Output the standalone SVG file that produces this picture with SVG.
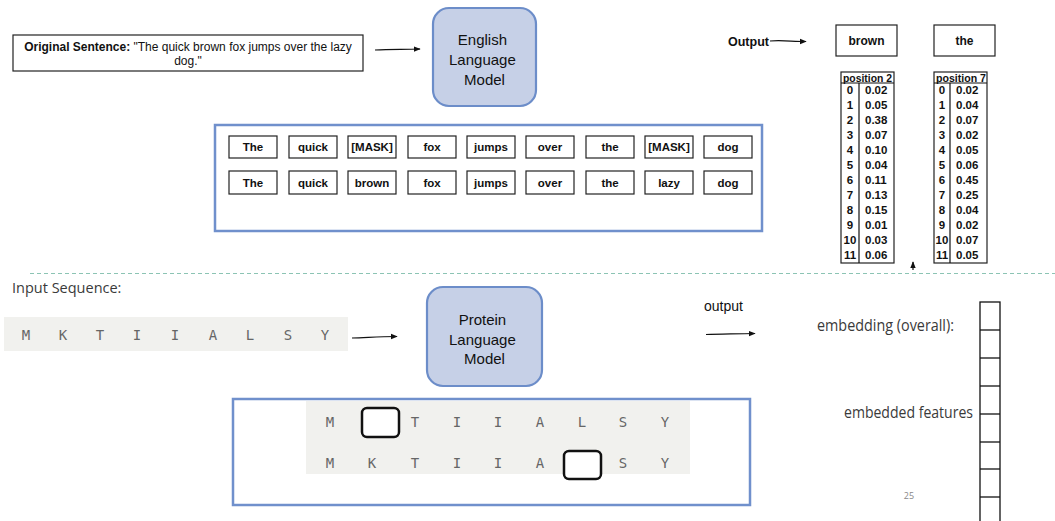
<svg xmlns="http://www.w3.org/2000/svg" width="1055" height="521" viewBox="0 0 1055 521">
  <style>
    .sans { font-family: "Liberation Sans", Arial, sans-serif; fill: #111; }
    .b { font-weight: bold; }
    .sketch { fill: #fff; stroke: #222; stroke-width: 1.2; }
    .lm { fill: #c6d0e7; stroke: #6c8dc9; stroke-width: 2.2; }
    .frame { fill: #fff; stroke: #7090cc; stroke-width: 2.5; }
    .tok { font-family: "Liberation Sans", Arial, sans-serif; font-weight: bold; font-size: 11.5px; fill: #111; text-anchor: middle; dominant-baseline: central; }
    .tok.big { font-size: 12px; }
    .cell { font-family: "Liberation Sans", Arial, sans-serif; font-weight: bold; font-size: 11.5px; fill: #111; dominant-baseline: central; }
    .mono { font-family: "DejaVu Sans Mono", "Liberation Mono", monospace; font-size: 14px; fill: #666; text-anchor: middle; dominant-baseline: central; }
    .soft { font-family: "Open Sans", "Noto Sans", sans-serif; fill: #3a3a3a; }
    .mask { fill: #fff; stroke: #111; stroke-width: 2.5; }
    .wire { fill: none; stroke: #111; stroke-width: 1.2; }
  </style>
  <defs>
    <marker id="head" viewBox="0 0 10 10" refX="9" refY="5" markerWidth="7" markerHeight="7" orient="auto" markerUnits="userSpaceOnUse">
      <path d="M0,1 L10,5 L0,9 Z" fill="#111"/>
    </marker>
  </defs>

  <rect width="1055" height="521" fill="#fff"/>

  <!-- ===== English masked-language-model half ===== -->
  <g id="original-sentence">
    <rect class="sketch" x="13" y="35" width="350" height="36"/>
    <text class="sans" x="188" y="51" font-size="12" text-anchor="middle"><tspan class="b">Original Sentence:</tspan> "The quick brown fox jumps over the lazy</text>
    <text class="sans" x="188" y="65" font-size="12" text-anchor="middle">dog."</text>
  </g>

  <g id="english-lm">
    <rect class="lm" x="433" y="8" width="103" height="98" rx="16"/>
    <text class="sans" font-size="15" text-anchor="middle" dominant-baseline="central">
      <tspan x="484.5" y="39">English</tspan>
      <tspan x="484.5" y="59">Language</tspan>
      <tspan x="484.5" y="79">Model</tspan>
    </text>
  </g>

  <g id="token-rows">
    <rect class="frame" x="215" y="125" width="547" height="106"/>
    <!-- masked row -->
    <rect class="sketch" x="229" y="136" width="48" height="22"/><text class="tok" x="253" y="147">The</text>
    <rect class="sketch" x="289" y="136" width="48" height="22"/><text class="tok" x="313" y="147">quick</text>
    <rect class="sketch" x="348" y="136" width="48" height="22"/><text class="tok" x="372" y="147">[MASK]</text>
    <rect class="sketch" x="408" y="136" width="48" height="22"/><text class="tok" x="432" y="147">fox</text>
    <rect class="sketch" x="467" y="136" width="48" height="22"/><text class="tok" x="491" y="147">jumps</text>
    <rect class="sketch" x="526" y="136" width="48" height="22"/><text class="tok" x="550" y="147">over</text>
    <rect class="sketch" x="586" y="136" width="48" height="22"/><text class="tok" x="610" y="147">the</text>
    <rect class="sketch" x="645" y="136" width="48" height="22"/><text class="tok" x="669" y="147">[MASK]</text>
    <rect class="sketch" x="704" y="136" width="48" height="22"/><text class="tok" x="728" y="147">dog</text>
    <!-- original row -->
    <rect class="sketch" x="229" y="171" width="48" height="23"/><text class="tok" x="253" y="182.5">The</text>
    <rect class="sketch" x="289" y="171" width="48" height="23"/><text class="tok" x="313" y="182.5">quick</text>
    <rect class="sketch" x="348" y="171" width="48" height="23"/><text class="tok" x="372" y="182.5">brown</text>
    <rect class="sketch" x="408" y="171" width="48" height="23"/><text class="tok" x="432" y="182.5">fox</text>
    <rect class="sketch" x="467" y="171" width="48" height="23"/><text class="tok" x="491" y="182.5">jumps</text>
    <rect class="sketch" x="526" y="171" width="48" height="23"/><text class="tok" x="550" y="182.5">over</text>
    <rect class="sketch" x="586" y="171" width="48" height="23"/><text class="tok" x="610" y="182.5">the</text>
    <rect class="sketch" x="645" y="171" width="48" height="23"/><text class="tok" x="669" y="182.5">lazy</text>
    <rect class="sketch" x="704" y="171" width="48" height="23"/><text class="tok" x="728" y="182.5">dog</text>
  </g>

  <g id="output-label">
    <text class="sans b" x="728" y="45.5" font-size="12.5">Output</text>
  </g>

  <g id="prediction-brown">
    <rect class="sketch" x="836" y="25" width="61" height="31"/>
    <text class="tok big" x="866.5" y="41">brown</text>
  </g>
  <g id="prediction-the">
    <rect class="sketch" x="934" y="25" width="61" height="31"/>
    <text class="tok big" x="964.5" y="41">the</text>
  </g>

  <!-- probability table for masked position 2 -->
  <g id="table-position-2">
    <rect class="sketch" x="841" y="72" width="53" height="191"/>
    <line class="wire" x1="841" y1="83" x2="894" y2="83"/>
    <line class="wire" x1="859" y1="83" x2="859" y2="263"/>
    <text class="cell" x="843" y="77.5" textLength="49" lengthAdjust="spacingAndGlyphs">position 2</text>
    <g text-anchor="middle">
      <text class="cell" x="850" y="90">0</text><text class="cell" x="850" y="105">1</text>
      <text class="cell" x="850" y="120">2</text><text class="cell" x="850" y="135">3</text>
      <text class="cell" x="850" y="150">4</text><text class="cell" x="850" y="165">5</text>
      <text class="cell" x="850" y="180">6</text><text class="cell" x="850" y="195">7</text>
      <text class="cell" x="850" y="210">8</text><text class="cell" x="850" y="225">9</text>
      <text class="cell" x="850" y="240">10</text><text class="cell" x="850" y="255">11</text>
    </g>
    <text class="cell" x="865" y="90">0.02</text><text class="cell" x="865" y="105">0.05</text>
    <text class="cell" x="865" y="120">0.38</text><text class="cell" x="865" y="135">0.07</text>
    <text class="cell" x="865" y="150">0.10</text><text class="cell" x="865" y="165">0.04</text>
    <text class="cell" x="865" y="180">0.11</text><text class="cell" x="865" y="195">0.13</text>
    <text class="cell" x="865" y="210">0.15</text><text class="cell" x="865" y="225">0.01</text>
    <text class="cell" x="865" y="240">0.03</text><text class="cell" x="865" y="255">0.06</text>
  </g>

  <!-- probability table for masked position 7 -->
  <g id="table-position-7">
    <rect class="sketch" x="934" y="72" width="53" height="191"/>
    <line class="wire" x1="934" y1="83" x2="987" y2="83"/>
    <line class="wire" x1="950" y1="83" x2="950" y2="263"/>
    <text class="cell" x="936" y="77.5" textLength="50" lengthAdjust="spacingAndGlyphs">position 7</text>
    <g text-anchor="middle">
      <text class="cell" x="942" y="90">0</text><text class="cell" x="942" y="105">1</text>
      <text class="cell" x="942" y="120">2</text><text class="cell" x="942" y="135">3</text>
      <text class="cell" x="942" y="150">4</text><text class="cell" x="942" y="165">5</text>
      <text class="cell" x="942" y="180">6</text><text class="cell" x="942" y="195">7</text>
      <text class="cell" x="942" y="210">8</text><text class="cell" x="942" y="225">9</text>
      <text class="cell" x="942" y="240">10</text><text class="cell" x="942" y="255">11</text>
    </g>
    <text class="cell" x="956" y="90">0.02</text><text class="cell" x="956" y="105">0.04</text>
    <text class="cell" x="956" y="120">0.07</text><text class="cell" x="956" y="135">0.02</text>
    <text class="cell" x="956" y="150">0.05</text><text class="cell" x="956" y="165">0.06</text>
    <text class="cell" x="956" y="180">0.45</text><text class="cell" x="956" y="195">0.25</text>
    <text class="cell" x="956" y="210">0.04</text><text class="cell" x="956" y="225">0.02</text>
    <text class="cell" x="956" y="240">0.07</text><text class="cell" x="956" y="255">0.05</text>
  </g>

  <!-- divider between the two halves -->
  <line x1="30" y1="273.5" x2="1055" y2="273.5" stroke="#8cc4b4" stroke-width="1" stroke-dasharray="4 3"/>

  <!-- ===== Protein language model half ===== -->
  <g id="input-sequence">
    <text class="soft" x="12" y="293" font-size="14.5" fill="#222">Input Sequence:</text>
    <rect x="4" y="317" width="344" height="34" fill="#f1f1ee"/>
    <text class="mono" x="26" y="335">M</text>
    <text class="mono" x="63" y="335">K</text>
    <text class="mono" x="100" y="335">T</text>
    <text class="mono" x="137" y="335">I</text>
    <text class="mono" x="175" y="335">I</text>
    <text class="mono" x="213" y="335">A</text>
    <text class="mono" x="250" y="335">L</text>
    <text class="mono" x="288" y="335">S</text>
    <text class="mono" x="325" y="335">Y</text>
  </g>

  <g id="protein-lm">
    <rect class="lm" x="427" y="287" width="115" height="99" rx="16"/>
    <text class="sans" font-size="15" text-anchor="middle" dominant-baseline="central">
      <tspan x="484.5" y="319">Protein</tspan>
      <tspan x="484.5" y="339">Language</tspan>
      <tspan x="484.5" y="358">Model</tspan>
    </text>
  </g>

  <g id="output-text">
    <text class="sans" x="704" y="311" font-size="14">output</text>
  </g>

  <g id="masked-sequences">
    <rect class="frame" x="233" y="399" width="517" height="106"/>
    <rect x="306" y="401" width="384" height="73" fill="#f1f1ee"/>
    <text class="mono" x="330" y="422">M</text>
    <rect class="mask" x="362" y="408" width="37" height="29" rx="5"/>
    <text class="mono" x="415" y="422">T</text>
    <text class="mono" x="457" y="422">I</text>
    <text class="mono" x="498" y="422">I</text>
    <text class="mono" x="540" y="422">A</text>
    <text class="mono" x="582" y="422">L</text>
    <text class="mono" x="623" y="422">S</text>
    <text class="mono" x="665" y="422">Y</text>

    <text class="mono" x="330" y="463">M</text>
    <text class="mono" x="372" y="463">K</text>
    <text class="mono" x="415" y="463">T</text>
    <text class="mono" x="457" y="463">I</text>
    <text class="mono" x="498" y="463">I</text>
    <text class="mono" x="540" y="463">A</text>
    <rect class="mask" x="564" y="451" width="37" height="28" rx="5"/>
    <text class="mono" x="623" y="463">S</text>
    <text class="mono" x="665" y="463">Y</text>
  </g>

  <g id="embedding">
    <text class="soft" x="817" y="331" font-size="15.5" textLength="137" lengthAdjust="spacingAndGlyphs">embedding (overall):</text>
    <text class="soft" x="844" y="418" font-size="15.5" textLength="129" lengthAdjust="spacingAndGlyphs">embedded features</text>
    <g fill="none" stroke="#111" stroke-width="1.3">
      <rect x="980" y="302" width="20" height="230"/>
      <line x1="980" y1="330" x2="1000" y2="330"/>
      <line x1="980" y1="358" x2="1000" y2="358"/>
      <line x1="980" y1="386" x2="1000" y2="386"/>
      <line x1="980" y1="414" x2="1000" y2="414"/>
      <line x1="980" y1="442" x2="1000" y2="442"/>
      <line x1="980" y1="469" x2="1000" y2="469"/>
      <line x1="980" y1="497" x2="1000" y2="497"/>
    </g>
  </g>

  <text x="909" y="499" font-family="'Open Sans', 'Noto Sans', sans-serif" font-size="9" fill="#888" text-anchor="middle">25</text>

  <!-- connectors -->
  <g id="connectors">
    <path class="wire" d="M375,50 C390,49 400,49.5 420,49" marker-end="url(#head)"/>
    <path class="wire" d="M770,41 C782,40 792,41.5 806,41.5" marker-end="url(#head)"/>
    <path class="wire" d="M352,338 C365,338 375,336.5 397,336.5" marker-end="url(#head)"/>
    <path class="wire" d="M706,334.5 C720,334 735,334 755,333.5" marker-end="url(#head)"/>
    <path class="wire" d="M913,270 L913,262" marker-end="url(#head)"/>
  </g>
</svg>
